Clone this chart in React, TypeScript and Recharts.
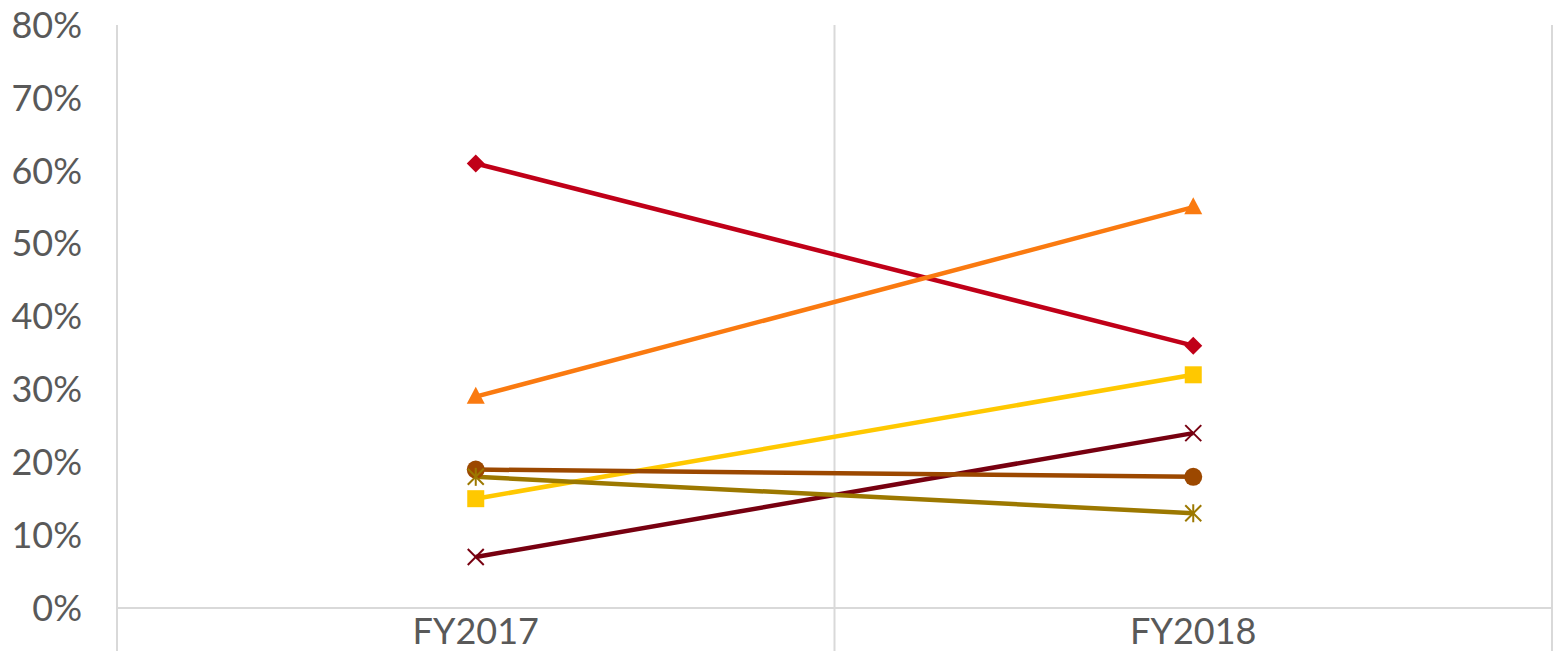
import React from 'react';
import { LineChart, Line, XAxis, YAxis, ReferenceLine } from 'recharts';

const categories = ['FY2017', 'FY2018'];
const redDiamond = [61, 36];
const orangeTriangle = [29, 55];
const yellowSquare = [15, 32];
const darkRedCross = [7, 24];
const brownCircle = [19, 18];
const oliveStar = [18, 13];
const yTicks = [0, 10, 20, 30, 40, 50, 60, 70, 80];
const boundaries = [0, 1, 2];

const series = [
  { key: 'redDiamond', values: redDiamond, color: '#C00018', shape: 'diamond' },
  { key: 'orangeTriangle', values: orangeTriangle, color: '#FA7A10', shape: 'triangle' },
  { key: 'yellowSquare', values: yellowSquare, color: '#FFC800', shape: 'square' },
  { key: 'darkRedCross', values: darkRedCross, color: '#770010', shape: 'cross' },
  { key: 'brownCircle', values: brownCircle, color: '#9C4800', shape: 'circle' },
  { key: 'oliveStar', values: oliveStar, color: '#9C7800', shape: 'star' },
];

const data = categories.map((name, i) => {
  const row: Record<string, number | string> = { name, x: i + 0.5 };
  series.forEach((s) => {
    row[s.key] = s.values[i];
  });
  return row;
});

const FONT = '"Century Gothic", "Lato", "DejaVu Sans", sans-serif';
const GRID = '#D9D9D9';
const TEXT = '#595959';

function makeDot(shape: string, color: string) {
  return (props: any) => {
    const { cx, cy, index } = props;
    if (cx == null || cy == null) return <g key={index} />;
    switch (shape) {
      case 'diamond':
        return <polygon key={index} points={`${cx},${cy - 9} ${cx + 9},${cy} ${cx},${cy + 9} ${cx - 9},${cy}`} fill={color} />;
      case 'triangle':
        return <polygon key={index} points={`${cx},${cy - 10} ${cx + 9},${cy + 7} ${cx - 9},${cy + 7}`} fill={color} />;
      case 'square':
        return <rect key={index} x={cx - 8.5} y={cy - 8.5} width={17} height={17} fill={color} />;
      case 'circle':
        return <circle key={index} cx={cx} cy={cy} r={9} fill={color} />;
      case 'cross':
        return (
          <g key={index} stroke={color} strokeWidth={2}>
            <line x1={cx - 8} y1={cy - 8} x2={cx + 8} y2={cy + 8} />
            <line x1={cx - 8} y1={cy + 8} x2={cx + 8} y2={cy - 8} />
          </g>
        );
      default:
        return (
          <g key={index} stroke={color} strokeWidth={2}>
            <line x1={cx - 8} y1={cy - 8} x2={cx + 8} y2={cy + 8} />
            <line x1={cx - 8} y1={cy + 8} x2={cx + 8} y2={cy - 8} />
            <line x1={cx} y1={cy - 9} x2={cx} y2={cy + 9} />
          </g>
        );
    }
  };
}

export default function App() {
  return (
    <div style={{ position: 'absolute', left: 0, top: 0, width: 1554, height: 651, overflow: 'hidden', background: '#fff' }}>
      <LineChart width={1554} height={651} data={data} margin={{ top: 25, right: 2, bottom: 0, left: 0 }}>
        <XAxis
          type="number"
          dataKey="x"
          domain={[0, 2]}
          ticks={[0.5, 1.5]}
          tickFormatter={(v: number) => categories[Math.floor(v)]}
          tick={{ fill: TEXT, fontSize: 36, fontFamily: FONT }}
          tickLine={false}
          axisLine={{ stroke: GRID, strokeWidth: 2 }}
          tickMargin={4}
          height={43}
        />
        <YAxis
          domain={[0, 80]}
          ticks={yTicks}
          tickFormatter={(v: number) => `${v}%`}
          tick={{ fill: TEXT, fontSize: 36, fontFamily: FONT }}
          tickLine={false}
          axisLine={false}
          width={117}
          tickMargin={29}
          interval={0}
        />
        {boundaries.map((b) => (
          <ReferenceLine
            key={b}
            segment={[{ x: b, y: -6 }, { x: b, y: 80 }]}
            stroke={GRID}
            strokeWidth={2}
            ifOverflow="visible"
          />
        ))}
        {series.map((s) => (
          <Line
            key={s.key}
            type="linear"
            dataKey={s.key}
            stroke={s.color}
            strokeWidth={4.5}
            dot={makeDot(s.shape, s.color)}
            activeDot={false}
            isAnimationActive={false}
          />
        ))}
      </LineChart>
    </div>
  );
}
